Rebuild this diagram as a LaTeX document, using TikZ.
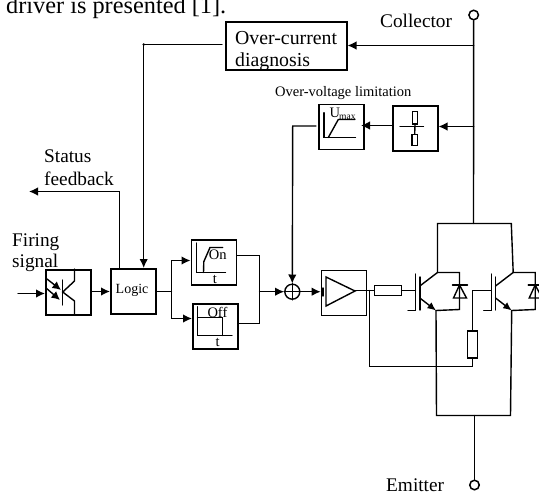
\documentclass[tikz,border=0pt]{standalone}
\usepackage{fontspec}
\setmainfont{Liberation Serif}
\usetikzlibrary{arrows.meta}
\tikzset{
  x=1pt,y=-1pt,
  wire/.style={line width=1.4pt,line cap=round,line join=miter},
  arr/.style={wire,-{Latex[length=9pt,width=8.5pt]}},
  blockbox/.style={draw,line width=1.5pt,minimum width=45pt,minimum height=45pt,inner sep=0pt,anchor=north west},
  lbl/.style={inner sep=0pt,anchor=base west,align=left},
  big/.style={lbl,font=\fontsize{19.3}{21}\selectfont},
  small/.style={lbl,font=\fontsize{14.5}{16}\selectfont},
  term/.style={draw,circle,line width=1.5pt,minimum size=9.5pt,inner sep=0pt},
  res/.style={draw,line width=1.4pt,inner sep=0pt,anchor=center},
}
% IGBT with antiparallel diode; #1 = x of the gate bar, #2 = name prefix
\newcommand{\igbtdiode}[2]{
  \coordinate (#2C) at (#1+22,272.5);
  \coordinate (#2E) at (#1+20.5,310.5);
  \coordinate (#2G) at (#1,290.5);
  \draw[wire] (#1,274) -- (#1,310.5) -- (#1-7.5,310.5);
  \draw[wire] (#1+4.3,277) -- (#1+4.3,310);
  \draw[wire] (#1+4.3,286) -- (#2C) -- (#1+44,272.5) -- (#1+44,309.5) -- (#2E);
  \draw[wire,-{Latex[length=8.5pt,width=7.5pt]}] (#1+4.3,298) -- (#2E);
  \draw[wire] (#1+37,285) -- (#1+52,285);
  \draw[wire] (#1+44,285) -- (#1+38,298) -- (#1+51,298) -- cycle;
}
\begin{document}
\begin{tikzpicture}
\useasboundingbox (0,0) rectangle (539,496);
\clip (0,0) rectangle (539,496);

% blocks
\node[blockbox] (opto) at (45,269) {};
\node[blockbox] (logic) at (110,268) {};
\node[blockbox] (on) at (190.5,239) {};
\node[blockbox] (off) at (192,303) {};
\node[blockbox] (amp) at (320.7,269.5) {};
\node[blockbox,minimum width=121pt,minimum height=48pt] (oc) at (225,21) {};
\node[blockbox] (umax) at (318,103.5) {};
\node[blockbox] (div) at (392,105) {};
\node[draw,circle,line width=1.4pt,minimum size=15pt,inner sep=0pt] (sum) at (292.3,291.7) {};
\draw[wire] (sum.north) -- (sum.south) (sum.west) -- (sum.east);
\node[term] (coll) at (473.7,15) {};
\node[term] (emit) at (474.5,485) {};

% texts
\node[lbl,font=\fontsize{24.3}{26}\selectfont] (intro) at (6,13.5) {driver is presented [1].};
\node[big] (tcoll) at (380,27.5) {Collector};
\node[big] (temit) at (386,491) {Emitter};
\node[big] (tstat) at (44,162) {Status};
\node[big] (tfeed) at (44,185) {feedback};
\node[big] (tfire) at (12,246) {Firing};
\node[big] (tsig) at (12,267) {signal};
\node[lbl,font=\fontsize{19.8}{21}\selectfont] (toc1) at (235,44) {Over-current};
\node[lbl,font=\fontsize{19.8}{21}\selectfont] (toc2) at (235,66) {diagnosis};
\node[small] (tov) at (275,96) {Over-voltage limitation};
\node[lbl,font=\fontsize{14}{15}\selectfont] (tlog) at (115.5,293.5) {Logic};
\node[small] (ton) at (208.7,259.5) {On};
\node[small] (toff) at (207.3,317) {Off};
\node[small] (tt1) at (212.7,283.5) {t};
\node[small] (tt2) at (215.5,346.7) {t};
\node[small] (tum) at (329.3,117) {U};
\node[lbl,font=\fontsize{9.5}{10}\selectfont] (tmax) at (339,119.5) {max};

% over-current branch
\coordinate (ocj) at (473.7,45.5);
\coordinate (octurn) at (143.7,44.5);
\coordinate (ocgap) at (222,44.5);
\draw[arr] (ocj) -- (oc.east |- ocj);
\draw[arr] (ocgap) -- (octurn) -- (octurn |- logic.north);
\fill (octurn) circle (1.4pt);

% status
\coordinate (stturn) at (119.3,191.5);
\coordinate (stend) at (29,191.5);
\draw[arr] (stturn |- logic.north) -- (stturn) -- (stend);

% collector rail and emitter lead
\coordinate (toprail) at (473.5,223.5);
\coordinate (botrail) at (474.5,415.5);
\draw[wire] (coll) -- (toprail);
\draw[wire] (emit) -- (botrail);

% over-voltage limitation
\coordinate (divj) at (473.7,126.5);
\draw[arr] (divj) -- (div.east |- divj);
\coordinate (dvo) at (392,125.5);
\coordinate (dvi) at (361,125.5);
\draw[arr] (dvo) -- (dvi);
\coordinate (umout) at (316,126);
\coordinate (umturn) at (292.7,126);
\draw[arr] (umout) -- (umturn) -- (sum.north);

% signal path
\coordinate (inp) at (18,293.5);
\draw[arr] (inp) -- (opto.west |- inp);
\coordinate (opo) at (91,291.5);
\draw[arr] (opo) -- (logic.west |- opo);
\coordinate (lj) at (171.5,291.5);
\coordinate (onin) at (171.5,260.5);
\coordinate (offin) at (171.5,318.5);
\draw[wire] (logic.east |- lj) -- (lj);
\draw[arr] (lj) -- (onin) -- (on.west |- onin);
\draw[arr] (lj) -- (offin) -- (off.west |- offin);
\coordinate (onout) at (259.5,255.5);
\coordinate (offout) at (259.5,323.5);
\draw[wire] (on.east |- onout) -- (onout) -- (offout) -- (off.east |- offout);
\coordinate (cj) at (259.5,291.7);
\draw[arr] (cj) -- (sum.west);
\draw[arr] (sum.east) -- (amp.west |- sum.east);

% opto symbol
\draw[wire] (62.7,280) -- (62.7,305);
\draw[wire] (74.5,269) -- (74.5,281) -- (62.7,292) -- (74.5,301) -- (74.5,314);
\draw[wire,-{Latex[length=8.5pt,width=8.5pt]}] (47,279) -- (61,290);
\draw[wire,-{Latex[length=8.5pt,width=8.5pt]}] (46,288) -- (60,300);

% on-delay symbol
\draw[wire] (196.5,243) -- (196.5,272.5) -- (225.5,272.5);
\draw[wire] (203.5,272.5) -- (203.8,261.7) -- (210,247.5) -- (222.7,247.5);
% off-delay symbol
\draw[wire] (197.5,306.7) -- (197.5,335.5) -- (232,335.5);
\draw[wire] (197.5,317.5) -- (222.5,317.5) -- (222.5,335.5);
% amp symbol
\draw[wire] (326,277) -- (355,291) -- (326,306) -- cycle;
\draw[wire] (323,288) -- (323,296);
% umax symbol
\draw[wire] (324,112.7) -- (324,137.5) -- (355.5,137.5);
\draw[wire] (328.3,137.5) -- (338.3,119.5) -- (355,119.5);
% divider symbol
\draw[wire] (400,126.5) -- (423.5,126.5);
\node[res,minimum width=5.5pt,minimum height=12.3pt] (r1) at (415,117.8) {};
\node[res,minimum width=5.5pt,minimum height=11.4pt] (r2) at (414.7,140) {};
\draw[wire] (r1.south) -- (r2.north);

% power stage
\igbtdiode{415.5}{a}
\igbtdiode{491.2}{b}
\coordinate (tl) at (437.5,223.5);
\coordinate (tr) at (511.3,223.5);
\coordinate (bl) at (436.5,415.5);
\coordinate (br) at (510.5,415.5);
\draw[wire] (aC) -- (tl) -- (tr) -- (bC);
\draw[wire] (aE) -- (bl) -- (br) -- (bE);

% gate drive
\node[res,minimum width=27pt,minimum height=10pt] (rg) at (388,290.5) {};
\node[res,minimum width=10pt,minimum height=27pt] (rb) at (472.5,344.5) {};
\coordinate (ampout) at (355,290.5);
\draw[wire] (ampout) -- (rg.west);
\draw[wire] (rg.east) -- (aG);
\draw[wire] (bG) -- (rb.north |- bG) -- (rb.north);
\coordinate (sense) at (369.5,290.5);
\coordinate (sensec) at (369.5,366.5);
\coordinate (senser) at (472.5,366.5);
\draw[wire] (sense) -- (sensec) -- (senser) -- (rb.south);
\end{tikzpicture}
\end{document}
